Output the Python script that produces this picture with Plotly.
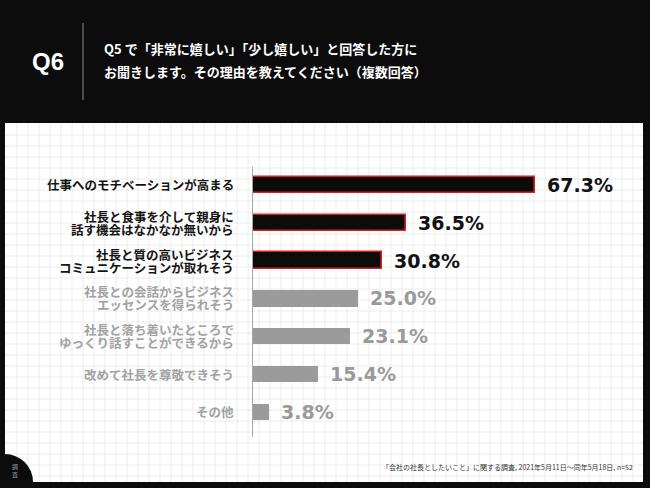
import plotly.graph_objects as go

W, H = 650, 488

categories = [
    "仕事へのモチベーションが高まる",
    "社長と食事を介して親身に<br>話す機会はなかなか無いから",
    "社長と質の高いビジネス<br>コミュニケーションが取れそう",
    "社長との会話からビジネス<br>エッセンスを得られそう",
    "社長と落ち着いたところで<br>ゆっくり話すことができるから",
    "改めて社長を尊敬できそう",
    "その他",
]
values = [67.3, 36.5, 30.8, 25.0, 23.1, 15.4, 3.8]
value_labels = ["67.3%", "36.5%", "30.8%", "25.0%", "23.1%", "15.4%", "3.8%"]
highlight = [True, True, True, False, False, False, False]

title_lines = ["Q5 で「非常に嬉しい」「少し嬉しい」と回答した方に",
               "お聞きします。その理由を教えてください（複数回答）"]
source = "「会社の社長としたいこと」に関する調査, 2021年5月11日〜同年5月18日, n=52"


def px_x(x):
    return x / W


def px_y(y):
    return 1 - y / H


BLACK = "#0c0c0c"
RED = "#dc1f1f"
GRAY = "#9b9b9b"
GRAY_TXT = "#a2a2a2"

fill_colors = [BLACK if h else GRAY for h in highlight]
line_colors = [RED if h else GRAY for h in highlight]
line_widths = [1.6 if h else 0 for h in highlight]
text_colors = ["#111111" if h else "#9a9a9a" for h in highlight]

ypos = list(range(len(categories)))

fig = go.Figure()
fig.add_trace(go.Bar(
    x=values, y=ypos, orientation="h", width=0.43,
    marker=dict(color=fill_colors, line=dict(color=line_colors, width=line_widths)),
    hoverinfo="skip", showlegend=False,
))

# axes geometry
x0_px, x1_px = 253, 643
scale = 4.19
y_top_px, y_bot_px = 167, 437
step = 37.8
first_c = 185

fig.update_layout(
    width=W, height=H, margin=dict(l=0, r=0, t=0, b=0),
    paper_bgcolor=BLACK, plot_bgcolor="rgba(0,0,0,0)",
    xaxis=dict(domain=[px_x(x0_px), px_x(x1_px)], range=[0, (x1_px - x0_px) / scale],
               showgrid=False, zeroline=False, showticklabels=False, ticks=""),
    yaxis=dict(domain=[px_y(y_bot_px), px_y(y_top_px)],
               range=[(y_bot_px - first_c) / step, (y_top_px - first_c) / step],
               showgrid=False, zeroline=False, showticklabels=False, ticks="",
               showline=True, linecolor="#a8a8a8", linewidth=1),
    bargap=0,
)

shapes = []
# white panel
PL, PT, PR, PB = 5, 123, 643, 482
shapes.append(dict(type="rect", xref="paper", yref="paper", layer="below",
                   x0=px_x(PL), x1=px_x(PR), y0=px_y(PB), y1=px_y(PT),
                   fillcolor="white", line=dict(width=0)))
# grid path
path = ""
gx = PL + 12
while gx < PR:
    path += f"M{px_x(gx)},{px_y(PT)} L{px_x(gx)},{px_y(PB)} "
    gx += 11
gy = PT + 12
while gy < PB:
    path += f"M{px_x(PL)},{px_y(gy)} L{px_x(PR)},{px_y(gy)} "
    gy += 11
shapes.append(dict(type="path", xref="paper", yref="paper", layer="below",
                   path=path, line=dict(color="#ececec", width=1)))
# corner circle
R = 28
shapes.append(dict(type="circle", xref="paper", yref="paper", layer="below",
                   x0=px_x(PL - R), x1=px_x(PL + R), y0=px_y(PB + R), y1=px_y(PB - R),
                   fillcolor=BLACK, line=dict(width=0)))
# header divider
shapes.append(dict(type="line", xref="paper", yref="paper",
                   x0=px_x(83), x1=px_x(83), y0=px_y(23), y1=px_y(100),
                   line=dict(color="#8a8a8a", width=1)))
fig.update_layout(shapes=shapes)

ann = []
CJK = "Noto Sans CJK JP"
ann.append(dict(x=px_x(48), y=px_y(62), xref="paper", yref="paper", text="<b>Q6</b>",
                showarrow=False, xanchor="center", yanchor="middle",
                font=dict(family="Liberation Sans, Arial", size=24, color="white")))
for i, t in enumerate(title_lines):
    ann.append(dict(x=px_x(102), y=px_y(49 + 23 * i), xref="paper", yref="paper", text=t,
                    showarrow=False, xanchor="left", yanchor="middle",
                    font=dict(family=CJK, size=13, color="white", weight=700)))

for i, (cat, v, lab) in enumerate(zip(categories, values, value_labels)):
    col = "#141414" if highlight[i] else GRAY_TXT
    lines = cat.split("<br>")
    n = len(lines)
    for j, ln in enumerate(lines):
        off = (j - (n - 1) / 2) * 13
        ann.append(dict(x=px_x(236), y=i, xref="paper", yref="y", text=ln, yshift=-off,
                        showarrow=False, xanchor="right", yanchor="middle",
                        font=dict(family=CJK, size=12.5, color=col, weight=700)))
    ann.append(dict(x=v, y=i, xref="x", yref="y", text=f"<b>{lab}</b>", xshift=10,
                    showarrow=False, xanchor="left", yanchor="middle",
                    font=dict(family="DejaVu Sans", size=19, color=text_colors[i])))

ann.append(dict(x=px_x(635), y=px_y(467), xref="paper", yref="paper", text=source,
                showarrow=False, xanchor="right", yanchor="middle",
                font=dict(family=CJK, size=7, color="#333333")))
ann.append(dict(x=px_x(15), y=px_y(470), xref="paper", yref="paper", text="調<br>査",
                showarrow=False, xanchor="center", yanchor="middle",
                font=dict(family=CJK, size=6, color="#9a9a9a")))
fig.update_layout(annotations=ann)

fig.write_html("out.html", config={"displayModeBar": False},
               post_script="document.body.style.margin='0';document.body.style.background='#0c0c0c';document.body.style.overflow='hidden';")
